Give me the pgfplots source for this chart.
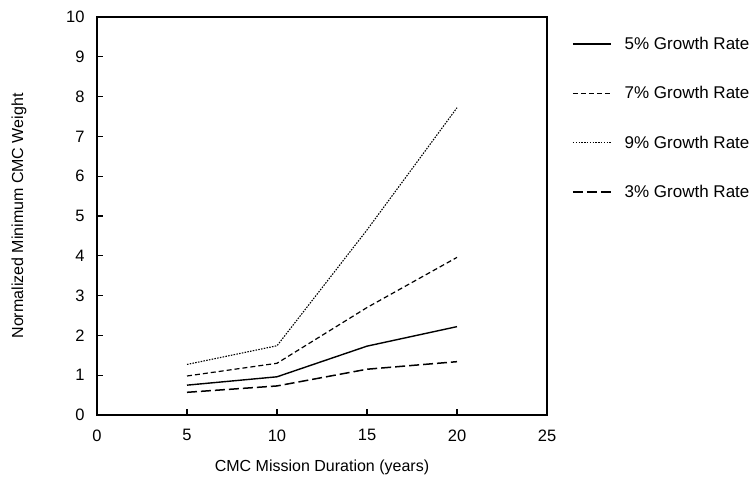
\documentclass[border=0pt]{standalone}
\usepackage{fontspec}
\setmainfont{Liberation Sans}
\usepackage{pgfplots}
\pgfplotsset{compat=1.18}
\begin{document}
\begin{tikzpicture}[x=1pt,y=1pt]
\path[use as bounding box] (0,0) rectangle (754,479);
\begin{axis}[
  at={(97pt,64pt)}, anchor=south west,
  scale only axis, width=450pt, height=398pt,
  xmin=0, xmax=25, ymin=0, ymax=10,
  xtick={0,5,10,15,20,25}, ytick={0,1,2,3,4,5,6,7,8,9,10},
  tick align=inside, xtick pos=bottom, ytick pos=left,
  major tick length=6pt,
  axis line style={line width=1.2pt},
  every tick/.style={line width=1.2pt, black},
  /pgf/number format/assume math mode=true,
  ticklabel style={font=\fontsize{16.5}{19}\selectfont},
  xticklabel style={yshift=-11pt},
  yticklabel style={xshift=-9pt},
  every axis x label/.style={at={(axis description cs:0.5,-0.1307)}, anchor=center, font=\fontsize{16}{19}\selectfont},
  every axis y label/.style={at={(axis description cs:-0.1733,0.5)}, anchor=center, rotate=90, font=\fontsize{16}{19}\selectfont},
  xlabel={CMC Mission Duration (years)},
  ylabel={Normalized Minimum CMC Weight},
  legend image code/.code={\draw[#1] (0pt,0pt) -- (38pt,0pt); \path (49pt,0pt);},
  legend cell align=left,
  legend style={at={(axis description cs:1,1)}, anchor=north west, xshift=22pt, yshift=-16pt,
    draw=none, fill=none, font=\fontsize{17}{20}\selectfont, row sep=31.5pt},
]
\addplot[black, line width=1.4pt] coordinates {(5,0.75) (10,0.96) (15,1.73) (20,2.22)};
\addlegendentry{5\% Growth Rate}
\addplot[black, line width=1.2pt, dash pattern=on 5pt off 3pt] coordinates {(5,0.98) (10,1.30) (15,2.70) (20,3.96)};
\addlegendentry{7\% Growth Rate}
\addplot[black, line width=1.1pt, dash pattern=on 1.5pt off 1.3pt] coordinates {(5,1.27) (10,1.74) (15,4.65) (20,7.72)};
\addlegendentry{9\% Growth Rate}
\addplot[black, line width=1.5pt, dash pattern=on 10pt off 4pt] coordinates {(5,0.57) (10,0.73) (15,1.15) (20,1.34)};
\addlegendentry{3\% Growth Rate}
\end{axis}
\end{tikzpicture}
\end{document}
